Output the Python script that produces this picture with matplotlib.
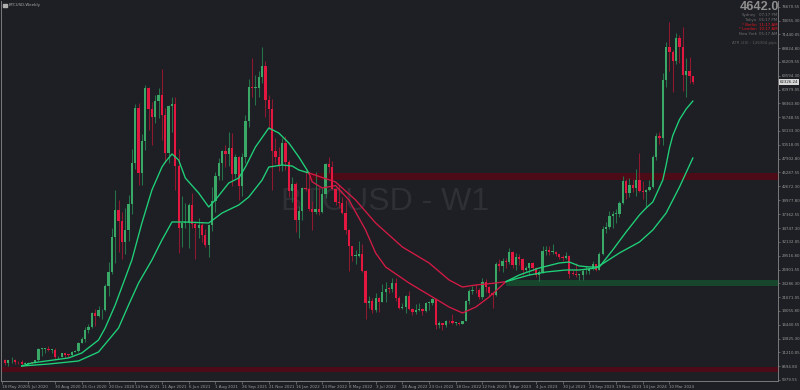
import numpy as np
import matplotlib
matplotlib.use('Agg')
from matplotlib import pyplot as plt

# Velas semanales BTCUSD
apertura_inicial = 9680
cierres = [9180, 9700, 9750, 9380, 9300, 9000, 9070, 9230, 9160, 9700,
           11800, 11900, 11900, 11650, 11700, 10250, 10330, 11080, 10770, 10670,
           11370, 11500, 13030, 13800, 15480, 16050, 18680, 18180, 19150, 19170,
           23800, 26450, 33100, 38150, 36020, 32090, 34300, 39250, 47160, 57500,
           45150, 51200, 61200, 57370, 55840, 58760, 60000, 56250, 49000, 57800,
           58240, 46430, 34770, 35680, 35800, 39100, 35600, 34700, 35290, 33500,
           31530, 35400, 39850, 44600, 47100, 49300, 48850, 49920, 44960, 48300,
           42800, 48200, 54950, 61500, 61300, 61300, 63300, 65500, 59000, 57270,
           49400, 48300, 46680, 50800, 47290, 41860, 43080, 36280, 37900, 42400,
           42200, 38400, 37700, 38400, 37800, 41260, 46800, 46400, 42150, 39700,
           39450, 37650, 34300, 31300, 29450, 29450, 29900, 26600, 20550, 21030,
           19300, 21600, 20800, 22600, 23300, 23200, 24440, 21530, 19560, 19800,
           21800, 19420, 18800, 19310, 19420, 19070, 20600, 20630, 21300, 16300,
           16700, 16450, 17100, 17090, 16750, 16840, 16540, 17130, 20880, 22780,
           23000, 22940, 21790, 24630, 23560, 22430, 22140, 28000, 27480, 28470,
           28330, 30300, 27820, 29230, 28900, 26780, 27100, 28070, 27100, 25840,
           26340, 30500, 30600, 30170, 30300, 29790, 29300, 29050, 29400, 26090,
           26000, 25830, 25840, 26530, 26530, 27000, 27950, 26850, 29930, 34500,
           35000, 37060, 37450, 37450, 39460, 43700, 41360, 43000, 42270, 43900,
           41730, 41580, 42030, 42580, 48300, 52130, 51730, 62800, 69000, 68000,
           66400, 70800, 69100, 63700, 64550, 63500, 62330]
maximos = [9900, 9740, 10400, 9950, 9600, 9790, 9300, 9470, 9300, 9800,
           12000, 12050, 12100, 12480, 11800, 12090, 10600, 11150, 11100, 10950,
           11500, 11720, 13200, 14100, 15960, 16500, 18800, 19480, 19900, 19400,
           24200, 28400, 34800, 41950, 40100, 37850, 38500, 40950, 49700, 58300,
           58400, 52600, 61800, 61500, 58600, 60000, 61300, 64800, 57500, 58000,
           59600, 59500, 49800, 40800, 39500, 39500, 41300, 36100, 36700, 35900,
           34500, 35500, 42600, 45300, 48100, 49500, 50500, 52900, 52800, 48800,
           48400, 49000, 56100, 62900, 67000, 63700, 64500, 69000, 66300, 59900,
           59100, 51900, 50100, 51900, 52100, 47600, 44400, 43500, 38900, 42600,
           45800, 44700, 39800, 45400, 42600, 42300, 47000, 48200, 47400, 42400,
           42900, 40700, 40000, 34500, 31400, 30600, 32300, 31700, 26800, 21900,
           21500, 22500, 21700, 24200, 24600, 23600, 25200, 25200, 21900, 20600,
           22000, 22800, 19700, 20400, 20500, 19600, 20800, 21000, 21500, 21500,
           17200, 16800, 17300, 17400, 18400, 17000, 16900, 17200, 21200, 23300,
           23800, 24200, 23400, 25200, 25100, 23800, 22600, 28400, 28900, 29100,
           29000, 31000, 30500, 30000, 29800, 29000, 27600, 28200, 28400, 27400,
           26800, 31400, 31300, 31400, 31800, 30400, 29900, 29700, 30200, 29600,
           26800, 28100, 26100, 27000, 27500, 27200, 28600, 28000, 30300, 35200,
           35900, 37900, 37900, 38400, 39900, 44700, 44000, 44300, 44000, 45900,
           49000, 43600, 42200, 43800, 48600, 52800, 53000, 64170, 70040, 73830,
           68500, 71630, 71300, 72770, 66900, 67100, 63600]
minimos = [8800, 8630, 9250, 9100, 8950, 8850, 8900, 9050, 9030, 9120,
           9650, 10600, 11150, 11400, 11150, 9880, 9900, 10250, 10150, 10400,
           10550, 11200, 11300, 12900, 13200, 14800, 15800, 16200, 18000, 17600,
           19000, 21800, 26000, 28100, 30300, 28800, 29900, 32300, 37400, 46000,
           43000, 43000, 49500, 53300, 50400, 54700, 55500, 51500, 47000, 47000,
           52900, 42000, 30000, 31200, 34800, 31000, 34800, 28800, 32800, 32100,
           31200, 29300, 34200, 37700, 43800, 43900, 46400, 46500, 42800, 44200,
           40000, 40800, 47100, 53900, 59500, 58000, 59500, 62300, 55700, 53500,
           42000, 47100, 45600, 45600, 45700, 40600, 39700, 34000, 32900, 36300,
           41700, 37900, 34300, 37500, 37200, 37600, 40500, 45200, 42000, 39200,
           38600, 37500, 33700, 26700, 28600, 28000, 29300, 26400, 17600, 19700,
           18700, 18800, 18900, 20700, 20700, 22400, 22700, 20900, 19500, 19500,
           18600, 19300, 18200, 18500, 19000, 18200, 18900, 19200, 20100, 15600,
           15800, 15500, 16000, 16700, 16500, 16300, 16300, 16500, 17100, 20400,
           22300, 22500, 21400, 21400, 22700, 21900, 19600, 21900, 26600, 26500,
           27200, 28000, 27200, 26900, 27700, 25800, 26500, 25900, 26600, 25400,
           24800, 26200, 29600, 29700, 29900, 29500, 28900, 28600, 28800, 25200,
           25800, 25400, 24900, 24900, 26100, 26000, 26900, 26600, 26800, 29700,
           33900, 34500, 34800, 35700, 36800, 39300, 40300, 40600, 41500, 40800,
           41500, 40300, 38500, 41800, 42300, 47700, 50600, 50500, 61500, 64400,
           60600, 65800, 66000, 60700, 59600, 62200, 62100]

# medias móviles (rápida y lenta)
ma_rapida_barras = [5, 8, 19, 23, 28, 30, 33, 36, 38, 41, 44, 47, 48, 50, 52, 54, 58, 61, 63, 67,
                    70, 72, 75, 79, 82, 85, 88, 91, 92, 95, 99, 103, 108, 111, 114, 121, 128, 133, 137, 141,
                    145, 150, 154, 160, 166, 169, 172, 175, 178, 182, 186, 190, 192, 194, 197, 198, 199, 200, 202, 204,
                    206]
ma_rapida = [8630, 9200, 10150, 11090, 13550, 15830, 20180, 25290, 28700, 35710,
             41960, 46310, 47260, 48780, 47640, 44230, 41390, 38740, 40070, 43280,
             44230, 46310, 50100, 53700, 52750, 50860, 48210, 45180, 43500, 42340,
             42800, 40070, 34380, 30030, 27380, 24350, 21700, 19800, 18670, 19800,
             21700, 24600, 25860, 27190, 28140, 28320, 27570, 27380, 27380, 30600,
             34000, 37220, 38550, 39690, 43850, 46700, 49900, 52300, 55300, 57300,
             58800]
ma_lenta_barras = [5, 13, 22, 28, 31, 34, 37, 40, 44, 47, 50, 54, 61, 65, 70, 73, 77, 79, 83, 86,
                   88, 91, 99, 105, 111, 119, 127, 133, 137, 141, 147, 150, 157, 162, 168, 172, 177, 184, 190, 194,
                   198, 202, 206]
ma_lenta = [8630, 9000, 9580, 11280, 13550, 15830, 20180, 24350, 28700, 32490,
            35900, 35900, 35710, 37600, 39120, 40630, 43850, 46310, 46690, 46500,
            45750, 45180, 43470, 40070, 35710, 31170, 28140, 24920, 23590, 23970,
            24350, 24600, 25860, 26430, 26810, 26810, 27190, 30030, 32110, 34380,
            37600, 42530, 48020]

# cruces de las medias y zonas horizontales
cruce_bajista = 91
cruce_alcista = 150
zona_roja = (43850, 45230)
zona_verde = (23780, 24920)
zona_inferior = (7440, 8500)

fechas = ['18 May 2020', '5 Jul 2020', '30 Aug 2020', '25 Oct 2020', '20 Dec 2020',
          '14 Feb 2021', '11 Apr 2021', '6 Jun 2021', '1 Aug 2021', '26 Sep 2021',
          '21 Nov 2021', '16 Jan 2022', '13 Mar 2022', '8 May 2022', '3 Jul 2022',
          '28 Aug 2022', '23 Oct 2022', '18 Dec 2022', '12 Feb 2023', '9 Apr 2023',
          '4 Jun 2023', '30 Jul 2023', '24 Sep 2023', '19 Nov 2023', '14 Jan 2024',
          '10 Mar 2024']
precios_eje = [76670.55, 74055.30, 71440.05, 68824.80, 66209.55, 63594.30, 60979.05,
               58363.80, 55748.55, 53133.30, 50518.05, 47902.80, 45287.55, 42672.30,
               39977.80, 37362.55, 34747.30, 32132.05, 29516.80, 26901.55, 24286.30,
               21671.05, 19055.80, 16440.55, 13825.30, 11210.05, 8594.80, 5979.55]
precio_actual = 62326.24

fondo = '#1e1f24'
verde = '#3aa867'
verde_mecha = '#23744a'
rojo = '#e3173f'
rojo_mecha = '#8e1a30'
linea_verde = '#1fd27a'
linea_roja = '#d41a45'
gris = '#9a9a9a'

fig = plt.figure(figsize=(8, 3.9), dpi=100, facecolor=fondo)
ax = fig.add_axes([1 / 800, 9 / 390, 777 / 800, 380 / 390], facecolor=fondo)

# marca de agua
ax.text(0.494, 0.471, 'BTCUSD - W1', transform=ax.transAxes, ha='center', va='center',
        fontsize=23, color='#2f3036', family='Liberation Sans', zorder=0)

# zonas
x_der = 232
ax.fill_between([cruce_bajista, x_der], zona_roja[0], zona_roja[1], color='#4d0b18', lw=0, zorder=1)
ax.fill_between([cruce_alcista, x_der], zona_verde[0], zona_verde[1], color='#18462c', lw=0, zorder=1)
ax.fill_between([-2, x_der], zona_inferior[0], zona_inferior[1], color='#4d0b18', lw=0, zorder=1)

# velas
c = np.array(cierres)
o = np.array([apertura_inicial] + cierres[:-1])
h = np.array(maximos)
l = np.array(minimos)
x = np.arange(len(c))
sube = c >= o
baja = ~sube
ax.vlines(x[sube], l[sube], h[sube], color=verde_mecha, lw=0.75, zorder=2)
ax.vlines(x[baja], l[baja], h[baja], color=rojo_mecha, lw=0.75, zorder=2)
cuerpo = np.maximum(np.abs(c - o), 150)
ax.bar(x[sube], cuerpo[sube], bottom=np.minimum(o, c)[sube], width=0.68, color=verde, lw=0, zorder=3)
ax.bar(x[baja], cuerpo[baja], bottom=np.minimum(o, c)[baja], width=0.68, color=rojo, lw=0, zorder=3)

# medias móviles, verdes o rojas según el cruce
for barras, valores in [(ma_rapida_barras, ma_rapida), (ma_lenta_barras, ma_lenta)]:
    b = np.array(barras)
    v = np.array(valores)
    m1 = b <= cruce_bajista
    m2 = (b >= cruce_bajista) & (b <= cruce_alcista)
    m3 = b >= cruce_alcista
    ax.plot(b[m1], v[m1], color=linea_verde, lw=0.95, zorder=4)
    ax.plot(b[m2], v[m2], color=linea_roja, lw=0.95, zorder=4)
    ax.plot(b[m3], v[m3], color=linea_verde, lw=0.95, zorder=4)

ax.set_xlim(-1.2, 231.5)
ax.set_ylim(5789, 77750)

# ejes
ax.spines['top'].set_visible(False)
for lado in ['left', 'right', 'bottom']:
    ax.spines[lado].set_color('#7a7a7a')
    ax.spines[lado].set_linewidth(0.7)

ax.yaxis.tick_right()
ax.set_yticks(precios_eje)
ax.set_yticklabels(['%.2f' % p for p in precios_eje])
ax.tick_params(axis='y', colors='#7a7a7a', labelcolor=gris, labelsize=2.8, length=1.5, width=0.5, pad=1)

pos_fechas = [-1] + list(range(7, 200, 8))
ax.set_xticks(pos_fechas)
ax.set_xticklabels(fechas, ha='left')
ax.tick_params(axis='x', colors='#7a7a7a', labelcolor=gris, labelsize=2.9, length=2, width=0.5, pad=1)

# etiqueta del precio actual
fig.text(779.5 / 800, 1 - 81.7 / 390, '%.2f' % precio_actual, ha='left', va='center',
         fontsize=2.8, color='#1e1f24',
         bbox=dict(boxstyle='square,pad=0.25', fc='#d8d8d8', ec='none'))

# textos de la esquina
fig.add_artist(plt.Rectangle((3 / 800, 1 - 7 / 390), 3.5 / 800, 3 / 390, color='#b0b0b0',
                             transform=fig.transFigure))
fig.text(9 / 800, 1 - 5 / 390, 'BTCUSD,Weekly', ha='left', va='center', fontsize=2.9, color='#a8a8a8')

fig.text(779 / 800, 1 - 7.2 / 390, '4642.0', ha='right', va='center', fontsize=9.2,
         fontweight='bold', family='Liberation Sans', color='#8e8e8e')
ciudades = ['Sydney', 'Tokyo', '* Berlin', '* London', 'New York']
horas = ['07:17 PM', '06:17 PM', '11:17 AM', '10:17 AM', '05:17 AM']
colores = ['#6f6f6f', '#6f6f6f', '#e0161e', '#e0161e', '#6f6f6f']
filas_y = [15.3, 20, 25, 29.3, 34]
for ciudad, hora, col, yy in zip(ciudades, horas, colores, filas_y):
    fig.text(756.5 / 800, 1 - yy / 390, ciudad, ha='right', va='center', fontsize=2.8, color=col)
    fig.text(759 / 800, 1 - yy / 390, hora, ha='left', va='center', fontsize=2.8, color=col)
fig.text(777 / 800, 1 - 42.7 / 390, 'ATR (20) : 126304 pips', ha='right', va='center',
         fontsize=2.8, color='#5e5e5e')

plt.savefig('out.png', dpi=100, facecolor=fondo)
